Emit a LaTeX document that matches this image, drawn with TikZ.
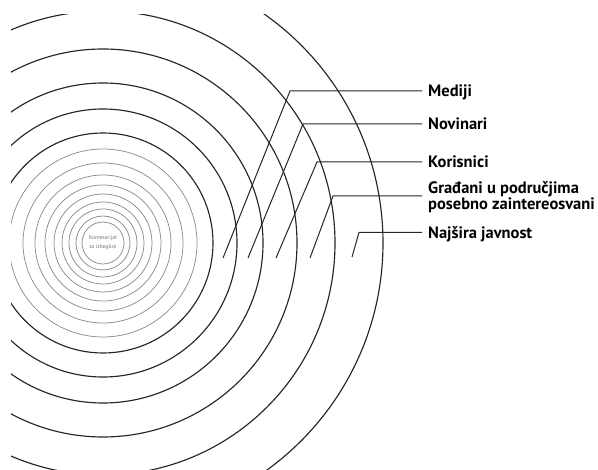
\documentclass[tikz,border=0pt]{standalone}
\usepackage{fontspec}
\setsansfont{PT Sans}
\usetikzlibrary{positioning}

\tikzstyle{ring} = [
draw=black!85,
line width=1.15pt
]
\tikzstyle{innerring} = [
draw=black!45,
line width=0.75pt
]
\tikzstyle{group} = [
anchor=base west,
inner xsep=6pt,
inner ysep=1pt,
align=left,
font=\sffamily\bfseries\fontsize{16.5}{12.7}\selectfont
]
\tikzstyle{centre} = [
align=center,
text=black!55,
font=\sffamily\fontsize{5.5}{9}\selectfont
]
\tikzstyle{leader} = [draw=black!85, line width=1pt]

\begin{document}
\begin{tikzpicture}[x=1pt, y=-1pt]
  \useasboundingbox (0,0) rectangle (598,470);
  \coordinate (c) at (103,243);

  % Draw rings
  \begin{scope}
    \clip (11,15) rectangle (598,470);
    \foreach \r in {21,27,34,41,49,58,68,80,94}
      \draw[innerring] (c) circle (\r pt);
    \foreach \r in {110,134,160,194,232,280}
      \draw[ring] (c) circle (\r pt);
  \end{scope}

  % Place nodes
  \node [centre] (kzi) at (c) {Komesarijat\\za izbeglice};
  \node [group] (mediji) at (422,96.5) {Mediji};
  \node [group] (novinari) at (422,129.5) {Novinari};
  \node [group] (korisnici) at (422,167.5) {Korisnici};
  \node [group] (gradjani) at (422,209.5) {Građani u područjima\\posebno zaintereosvani};
  \node [group] (javnost) at (422,238.5) {Najšira javnost};

  % Leader points
  \coordinate (m0) at (223,258); \coordinate (m1) at (290,91);
  \coordinate (n0) at (248,258); \coordinate (n1) at (303,124);
  \coordinate (k0) at (276,258); \coordinate (k1) at (317,162);
  \coordinate (g0) at (310,258); \coordinate (g1) at (333,196);
  \coordinate (j0) at (352,257); \coordinate (j1) at (359,232.5);

  % Draw edges
  \path [leader] (m0) -- (m1) -- (m1 -| mediji.west);
  \path [leader] (n0) -- (n1) -- (n1 -| novinari.west);
  \path [leader] (k0) -- (k1) -- (k1 -| korisnici.west);
  \path [leader] (g0) -- (g1) -- (g1 -| gradjani.west);
  \path [leader] (j0) -- (j1) -- (j1 -| javnost.west);

\end{tikzpicture}
\end{document}
